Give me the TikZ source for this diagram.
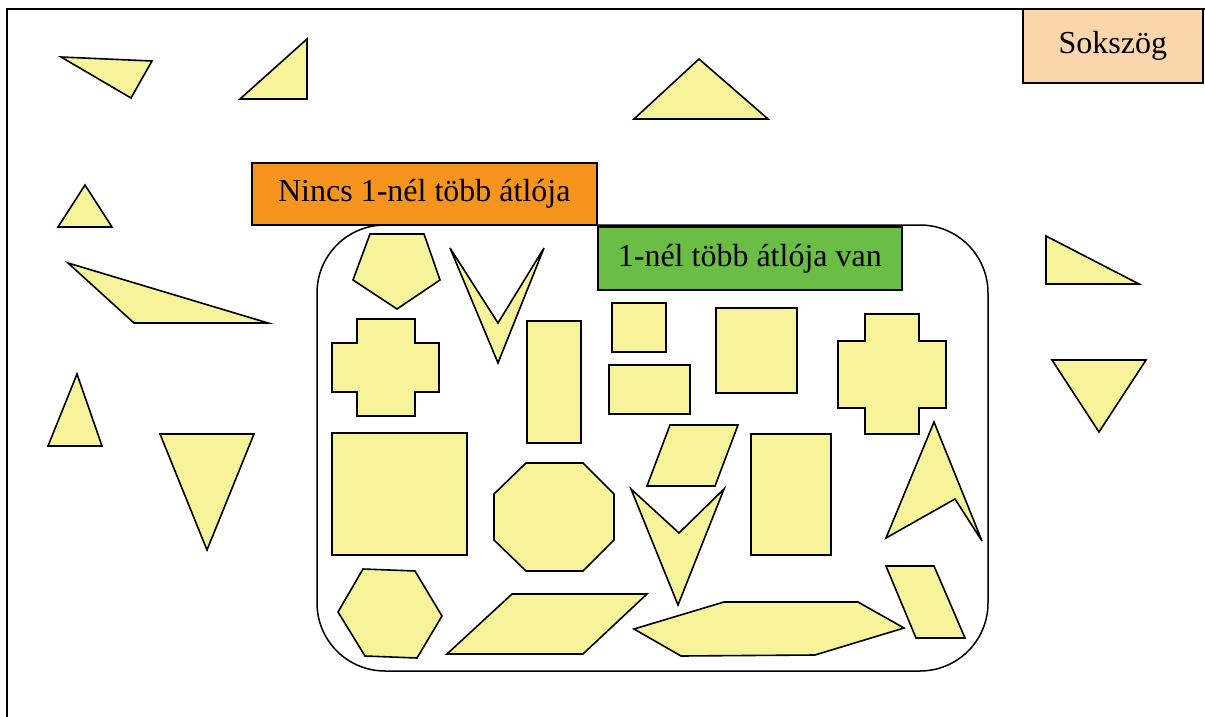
\documentclass[tikz,border=0pt]{standalone}
\usepackage{fontspec}
\setmainfont{Liberation Serif}
\definecolor{shapefill}{RGB}{247,243,155}
\definecolor{orangebox}{RGB}{247,148,29}
\definecolor{greenbox}{RGB}{106,189,69}
\definecolor{peachbox}{RGB}{251,213,171}
\tikzset{
  poly/.style={draw=black, fill=shapefill, line width=1.6pt, line join=miter},
  labelbox/.style={draw=black, line width=1.6pt, anchor=north west, inner sep=0pt,
    font=\fontsize{32}{38}\selectfont},
  frameline/.style={draw=black, line width=2pt},
  group/.style={draw=black, line width=1.5pt, rounded corners=68pt}
}
\begin{document}
\begin{tikzpicture}[x=1pt,y=-1pt]
\useasboundingbox (0,0) rectangle (1205,717);
% outer frame
\draw[frameline] (7,720) -- (7,9) -- (1210,9);
% group of polygons with more than one diagonal
\draw[group] (317,225) rectangle (988,671);
% labels
\node[labelbox, fill=orangebox, minimum width=345pt, minimum height=62pt] (nincs) at (251,162) {Nincs 1-nél több átlója};
\node[labelbox, fill=greenbox, minimum width=304pt, minimum height=63pt] (van) at (597,226) {1-nél több átlója van};
\node[labelbox, fill=peachbox, minimum width=180pt, minimum height=74pt] (sokszog) at (1022,8) {Sokszög};
% outside triangles
\draw[poly] (61,57) -- (152,61) -- (131,98) -- cycle;
\draw[poly] (240,99) -- (307,39) -- (307,99) -- cycle;
\draw[poly] (634,119) -- (699,59) -- (768,119) -- cycle;
\draw[poly] (58,227) -- (85,185) -- (112,227) -- cycle;
\draw[poly] (68,263) -- (268,323) -- (134,323) -- cycle;
\draw[poly] (48,446) -- (77,374) -- (102,446) -- cycle;
\draw[poly] (160,434) -- (254,434) -- (207,550) -- cycle;
\draw[poly] (1046,236) -- (1139,284) -- (1046,284) -- cycle;
\draw[poly] (1052,360) -- (1146,360) -- (1099,432) -- cycle;
% inside polygons
% pentagon
\draw[poly] (370,234) -- (424,234) -- (440,280) -- (397,309) -- (353,280) -- cycle;
% narrow chevron
\draw[poly] (450,248) -- (498,323) -- (544,248) -- (498,363) -- cycle;
% left cross
\draw[poly] (357,319) -- (415,319) -- (415,343) -- (439,343) -- (439,392) -- (415,392)
  -- (415,416) -- (357,416) -- (357,392) -- (332,392) -- (332,343) -- (357,343) -- cycle;
% tall rectangle
\draw[poly] (527,321) rectangle (581,443);
% small square
\draw[poly] (612,303) rectangle (666,352);
% wide rectangle
\draw[poly] (609,365) rectangle (690,414);
% square
\draw[poly] (716,308) rectangle (797,393);
% right cross
\draw[poly] (865,314) -- (919,314) -- (919,341) -- (946,341) -- (946,408) -- (919,408)
  -- (919,434) -- (865,434) -- (865,408) -- (838,408) -- (838,341) -- (865,341) -- cycle;
% big square
\draw[poly] (332,433) rectangle (467,555);
% octagon
\draw[poly] (526,463) -- (583,463) -- (614,494) -- (614,540) -- (583,571) -- (526,571) -- (494,540) -- (494,494) -- cycle;
% hexagon
\draw[poly] (363,569) -- (415,571) -- (442,616) -- (417,658) -- (365,656) -- (338,612) -- cycle;
% bottom parallelogram
\draw[poly] (512,594) -- (647,594) -- (583,654) -- (447,654) -- cycle;
% upper parallelogram
\draw[poly] (670,425) -- (738,425) -- (715,486) -- (647,486) -- cycle;
% chevron
\draw[poly] (631,489) -- (679,533) -- (724,489) -- (678,605) -- cycle;
% rectangle
\draw[poly] (751,434) rectangle (831,555);
% arrowhead shape
\draw[poly] (934,422) -- (982,541) -- (955,499) -- (886,538) -- cycle;
% right parallelogram
\draw[poly] (886,566) -- (934,566) -- (965,638) -- (916,638) -- cycle;
% elongated hexagon
\draw[poly] (634,629) -- (724,602) -- (858,602) -- (904,628) -- (815,655) -- (681,656) -- cycle;
\end{tikzpicture}
\end{document}
